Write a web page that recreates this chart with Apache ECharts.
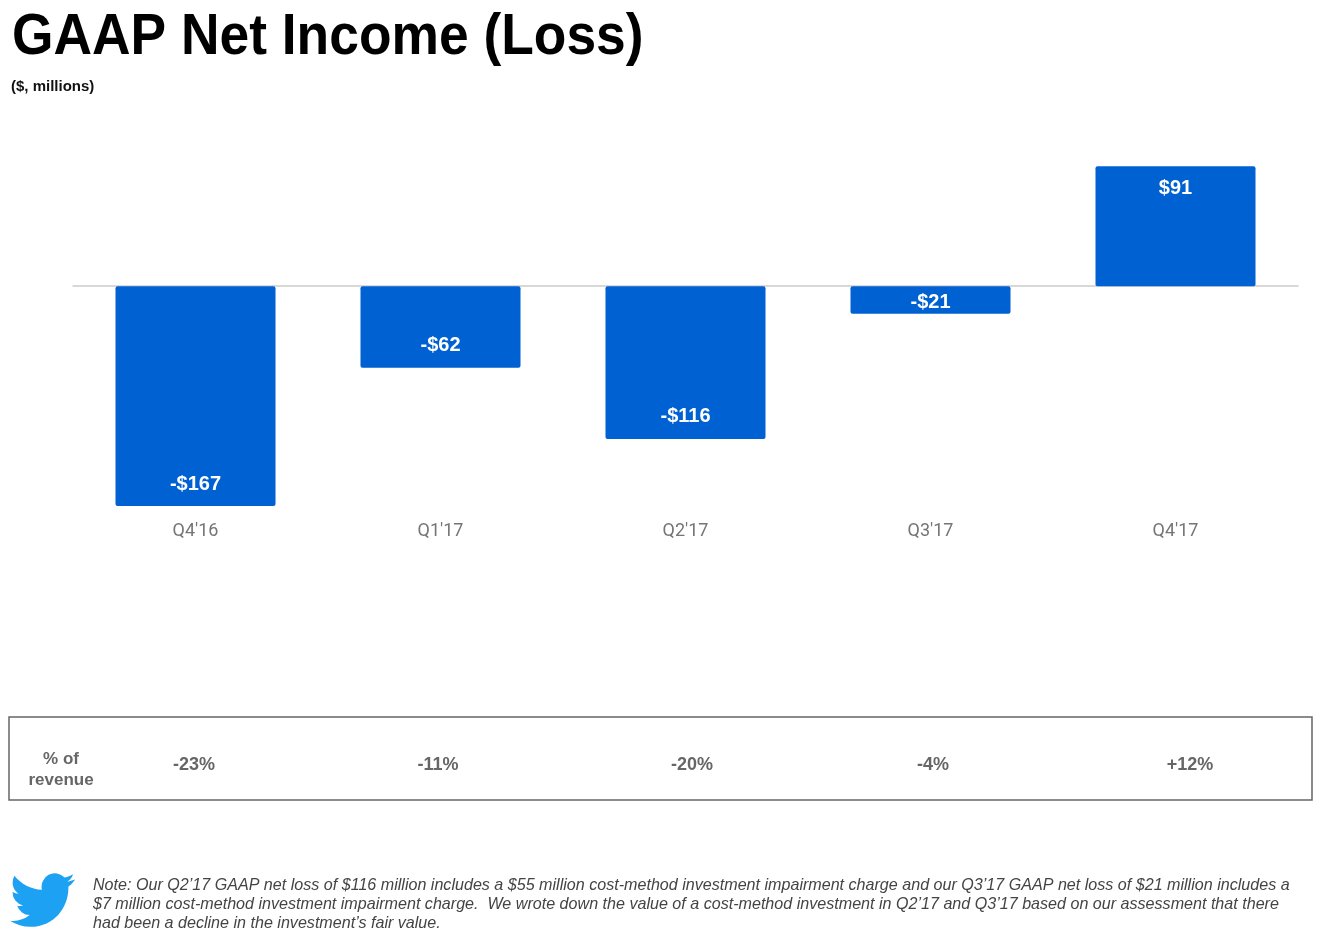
<!DOCTYPE html>
<html>
<head>
<meta charset="utf-8">
<style>
  html, body { margin: 0; padding: 0; background: #ffffff; }
  #chart { width: 1324px; height: 936px; }
</style>
<script src="https://cdn.jsdelivr.net/npm/echarts@6/dist/echarts.min.js"></script>
</head>
<body>
<div id="chart"></div>
<script>
// ---- data ----
var categories = ["Q4'16", "Q1'17", "Q2'17", "Q3'17", "Q4'17"];
var netIncome = [-167, -62, -116, -21, 91];
var pctOfRevenue = ['-23%', '-11%', '-20%', '-4%', '+12%'];
var titleText = 'GAAP Net Income (Loss)';
var subtitleText = '($, millions)';
var rowLabel = ['% of', 'revenue'];
var noteLines = [
  'Note: Our Q2\u201917 GAAP net loss of $116 million includes a $55 million cost-method investment impairment charge and our Q3\u201917 GAAP net loss of $21 million includes a',
  '$7 million cost-method investment impairment charge.  We wrote down the value of a cost-method investment in Q2\u201917 and Q3\u201917 based on our assessment that there',
  'had been a decline in the investment\u2019s fair value.'
];

// ---- layout (not data) ----
var tableXs = [194, 438, 692, 933, 1190];
var BAR_COLOR = '#0061D2';
var birdPath = 'M23.953 4.57a10 10 0 0 1 -2.825 0.775a4.958 4.958 0 0 0 2.163 -2.723c-0.951 0.555 -2.005 0.959 -3.127 1.184a4.92 4.92 0 0 0 -8.384 4.482C7.69 8.095 4.067 6.13 1.64 3.162a4.822 4.822 0 0 0 -0.666 2.475c0 1.71 0.87 3.213 2.188 4.096a4.904 4.904 0 0 1 -2.228 -0.616v0.06a4.923 4.923 0 0 0 3.946 4.827a4.996 4.996 0 0 1 -2.212 0.085a4.936 4.936 0 0 0 4.604 3.417a9.867 9.867 0 0 1 -6.102 2.105c-0.39 0 -0.779 -0.023 -1.17 -0.067a13.995 13.995 0 0 0 7.557 2.209c9.053 0 13.998 -7.496 13.998 -13.985c0 -0.21 0 -0.42 -0.015 -0.63A9.935 9.935 0 0 0 24 4.59z';
var birdSvg = 'data:image/svg+xml;charset=utf-8,' + encodeURIComponent(
  '<svg xmlns="http://www.w3.org/2000/svg" viewBox="0 1.8 24 20.4" width="65" height="56" preserveAspectRatio="none"><path fill="#1DA1F2" d="' + birdPath + '"/></svg>');

var chart = echarts.init(document.getElementById('chart'), null, { renderer: 'canvas' });

var barData = netIncome.map(function (v) {
  var small = v < 0 && v > -40;
  var pos = v >= 0 ? 'insideTop' : (small ? 'inside' : 'insideBottom');
  return { value: v, label: { position: pos, offset: small ? [0, 2] : [0, 0] } };
});

var graphics = [
  { type: 'text', x: 12, y: 38, scaleX: 0.92,
    style: { text: titleText, font: 'bold 58px "Liberation Sans", Arial, sans-serif', fill: '#000',
      align: 'left', verticalAlign: 'middle' } },
  { type: 'text', x: 11, y: 87,
    style: { text: subtitleText, font: 'bold 15px "Liberation Sans", Arial, sans-serif', fill: '#111',
      align: 'left', verticalAlign: 'middle' } },
  { type: 'rect', shape: { x: 9, y: 717, width: 1303, height: 83 },
    style: { fill: 'none', stroke: '#666', lineWidth: 1.5 } },
  { type: 'text', x: 61, y: 770,
    style: { text: rowLabel.join('\n'), font: 'bold 17px "Liberation Sans", Arial, sans-serif', fill: '#666',
      align: 'center', verticalAlign: 'middle', lineHeight: 21 } },
  { type: 'image', style: { image: birdSvg, x: 10, y: 872, width: 65, height: 56 } }
];
pctOfRevenue.forEach(function (t, i) {
  graphics.push({ type: 'text', x: tableXs[i], y: 765,
    style: { text: t, font: 'bold 18px "Liberation Sans", Arial, sans-serif', fill: '#666',
      align: 'center', verticalAlign: 'middle' } });
});
noteLines.forEach(function (t, i) {
  graphics.push({ type: 'text', x: 93, y: 886 + i * 19,
    style: { text: t, font: 'italic 16.1px "Liberation Sans", Arial, sans-serif', fill: '#444',
      align: 'left', verticalAlign: 'middle' } });
});

chart.setOption({
  animation: false,
  backgroundColor: '#ffffff',
  grid: { left: 73, right: 26, top: 115, height: 395, containLabel: false },
  xAxis: [
    { type: 'category', data: categories, position: 'top',
      axisLine: { show: true, onZero: true, lineStyle: { color: '#cccccc', width: 1.5 } },
      axisTick: { show: false }, axisLabel: { show: false }, splitLine: { show: false } },
    { type: 'category', data: categories, position: 'bottom',
      axisLine: { show: false, onZero: false }, axisTick: { show: false },
      axisLabel: { show: true, margin: 12, color: '#757575', fontSize: 18, fontFamily: 'Roboto, sans-serif' },
      splitLine: { show: false } }
  ],
  yAxis: { type: 'value', min: -170, max: 130, show: false, splitLine: { show: false } },
  series: [{
    type: 'bar', xAxisIndex: 0, data: barData, barWidth: 160,
    itemStyle: { color: BAR_COLOR, borderRadius: 2 },
    label: {
      show: true, distance: 12, color: '#ffffff', fontSize: 20, fontWeight: 'bold',
      fontFamily: '"Liberation Sans", Arial, sans-serif',
      formatter: function (p) { return (p.value < 0 ? '-$' : '$') + Math.abs(p.value); }
    }
  }],
  graphic: graphics
});
</script>
</body>
</html>
